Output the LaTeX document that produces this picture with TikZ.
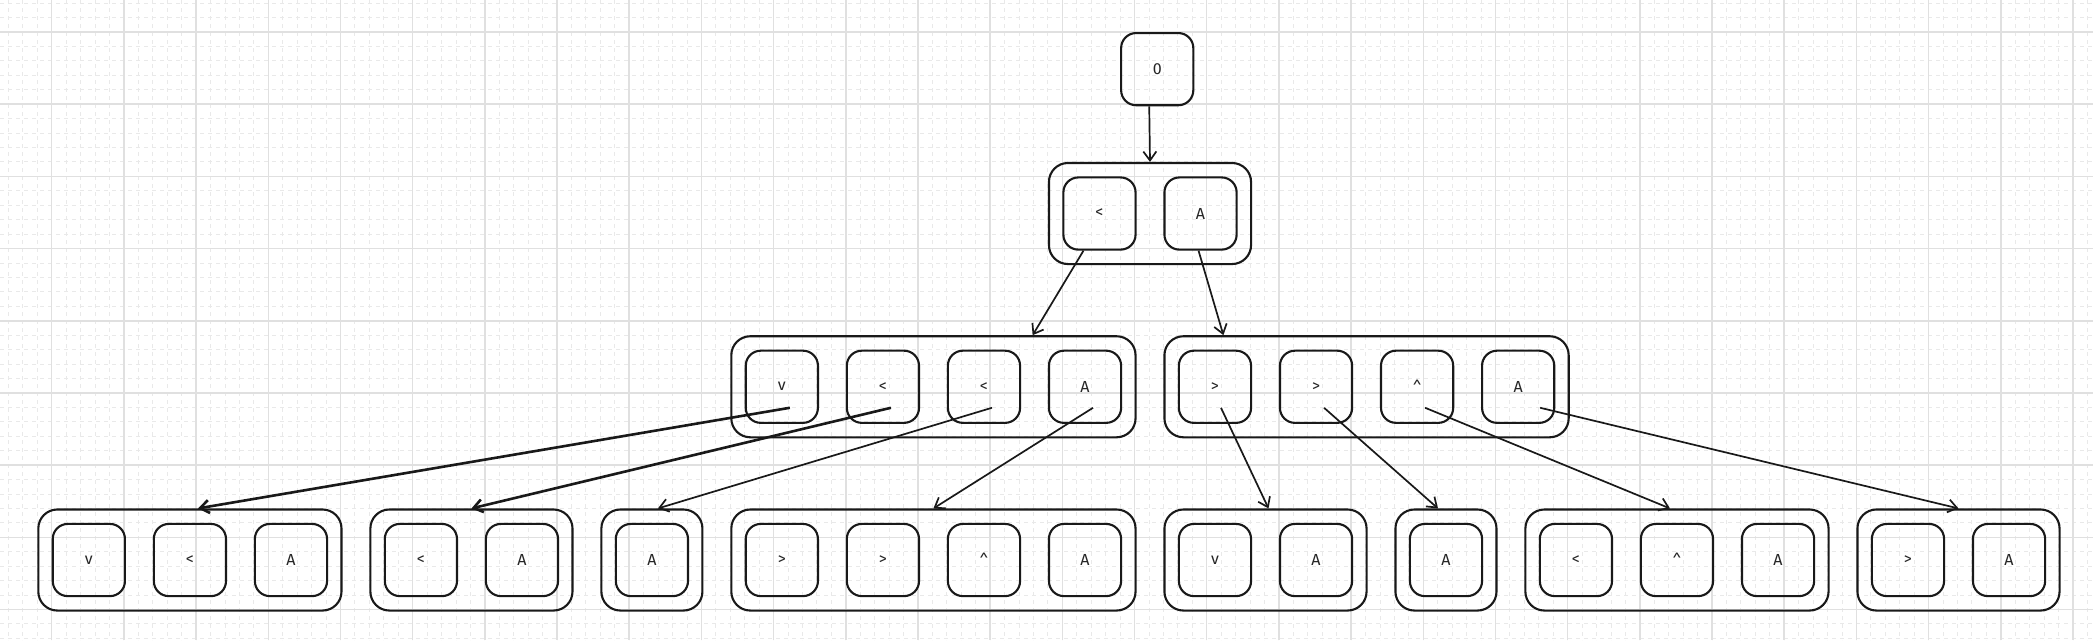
\documentclass[tikz,border=0pt]{standalone}
\usepackage{fontspec}
\setmainfont{Fira Sans}
\usetikzlibrary{arrows.meta,calc}
\def\U{14.4375}
\def\XO{51.7}
\def\YO{32}
\tikzset{
  minorgrid/.style={draw=gray!17, line width=0.9pt, dash pattern=on 4pt off 4pt},
  majorgrid/.style={draw=gray!24, line width=1.5pt},
  keybox/.style={draw=black!90, line width=2.1pt, rounded corners=15pt,
    minimum width=72.19pt, minimum height=72.19pt, inner sep=0pt,
    font=\fontsize{16}{18}\selectfont, text=black!85},
  groupbox/.style={draw=black!90, line width=2.1pt, rounded corners=19pt,
    inner sep=0pt, minimum height=101.06pt},
  arr/.style={draw=black!90, line width=1.7pt, -{Straight Barb[length=9pt,width=13pt]}},
  thickarr/.style={arr, line width=2.6pt},
}
\newcommand\keygroup[5]{%
  \node[groupbox, anchor=north west, minimum width={7*\U*#4}] (#1) at ({\XO+\U*(#2)},{\YO+\U*(#3)}) {};
  \foreach \lab [count=\i] in {#5} {
    \node[keybox, anchor=north west] (#1-\i) at ({\XO+\U*(#2+1+7*(\i-1))},{\YO+\U*(#3+1)}) {\lab};
  }
}
\begin{document}
\begin{tikzpicture}[x=1pt,y=-1pt]
\useasboundingbox[fill=white] (0,0) rectangle (2093,640);
% grid
\foreach \m in {-3,...,141} \draw[minorgrid] ({\XO+\U*\m},0) -- ({\XO+\U*\m},640);
\foreach \n in {-2,...,42} \draw[minorgrid] (0,{\YO+\U*\n}) -- (2093,{\YO+\U*\n});
\foreach \k in {-1,...,28} \draw[majorgrid] ({\XO+72.1875*\k},0) -- ({\XO+72.1875*\k},640);
\foreach \k in {0,...,8} \draw[majorgrid] (0,{\YO+72.1875*\k}) -- (2093,{\YO+72.1875*\k});
% nodes
\node[keybox, anchor=north west] (top) at ({\XO+\U*74},{\YO}) {0};
\keygroup{L1}{69}{9}{2}{<,A}
\keygroup{L2a}{47}{21}{4}{v,<,<,A}
\keygroup{L2b}{77}{21}{4}{>,>,\textasciicircum,A}
\keygroup{B1}{-1}{33}{3}{v,<,A}
\keygroup{B2}{22}{33}{2}{<,A}
\keygroup{B3}{38}{33}{1}{A}
\keygroup{B4}{47}{33}{4}{>,>,\textasciicircum,A}
\keygroup{B5}{77}{33}{2}{v,A}
\keygroup{B6}{93}{33}{1}{A}
\keygroup{B7}{102}{33}{3}{<,\textasciicircum,A}
\keygroup{B8}{125}{33}{2}{>,A}
% connectors
\draw[arr] ($(top.south)+(-8,0)$) -- (L1.north);
\draw[arr] ($(L1-1.south)+(-16,0)$) -- ($(L2a.north east)+(-104,0)$);
\draw[arr] ($(L1-2.south)+(-2,0)$) -- ($(L2b.north west)+(60,0)$);
\draw[thickarr] ($(L2a-1.center)+(8,21)$) -- ($(B1.north)+(8,0)$);
\draw[thickarr] ($(L2a-2.center)+(8,21)$) -- (B2.north);
\draw[arr] ($(L2a-3.center)+(8,21)$) -- ($(B3.north)+(6,0)$);
\draw[arr] ($(L2a-4.center)+(8,21)$) -- (B4.north);
\draw[arr] ($(L2b-1.center)+(6,21)$) -- ($(B5.north)+(3,0)$);
\draw[arr] ($(L2b-2.center)+(8,21)$) -- ($(B6.north)+(-8,0)$);
\draw[arr] ($(L2b-3.center)+(8,21)$) -- ($(B7.north)+(-7,0)$);
\draw[arr] ($(L2b-4.center)+(22,21)$) -- (B8.north);
\end{tikzpicture}
\end{document}
